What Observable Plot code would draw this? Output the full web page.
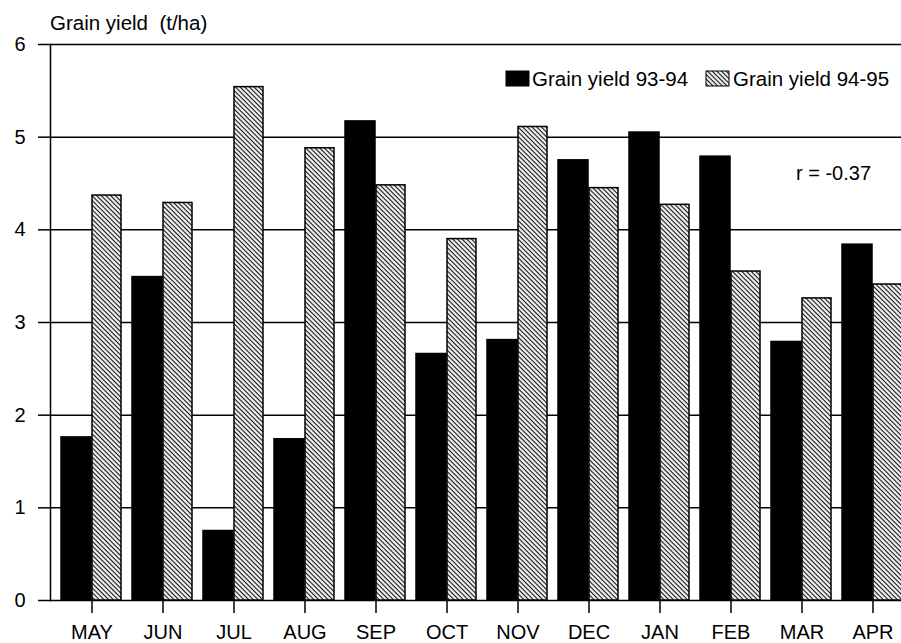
<!DOCTYPE html>
<html>
<head>
<meta charset="utf-8">
<script src="https://cdn.jsdelivr.net/npm/d3@7"></script>
<script src="https://cdn.jsdelivr.net/npm/@observablehq/plot@0.6"></script>
<style>
  html, body { margin: 0; padding: 0; background: white; overflow: hidden; }
  #wrap { position: relative; width: 901px; height: 643px; overflow: hidden; font-family: "Liberation Sans", Arial, Helvetica, sans-serif; color: black; }
  #title { position: absolute; left: 50px; top: 2px; height: 24px; font-size: 20.5px; line-height: 20px; white-space: pre; padding-top: 11px; box-sizing: border-box; overflow: visible; }
  #chart { position: absolute; left: 0; top: 26px; }
  #overlay { position: absolute; left: 0; top: 0; pointer-events: none; }
</style>
</head>
<body>
<svg width="0" height="0" style="position:absolute">
  <defs>
    <pattern id="hatch" patternUnits="userSpaceOnUse" width="3.3" height="3.3" patternTransform="rotate(-45)">
      <rect width="3.3" height="3.3" fill="white"></rect>
      <line x1="1.2" y1="0" x2="1.2" y2="3.3" stroke="#111" stroke-width="1.2"></line>
    </pattern>
  </defs>
</svg>
<div id="wrap">
  <div id="title"></div>
  <div id="chart"></div>
  <svg id="overlay" width="901" height="643"></svg>
</div>
<script>
const titleText = "Grain yield  (t/ha)";
const months = ["MAY", "JUN", "JUL", "AUG", "SEP", "OCT", "NOV", "DEC", "JAN", "FEB", "MAR", "APR"];
const yield9394 = [1.76, 3.49, 0.75, 1.74, 5.17, 2.66, 2.81, 4.75, 5.05, 4.79, 2.79, 3.84];
const yield9495 = [4.37, 4.29, 5.54, 4.88, 4.48, 3.90, 5.11, 4.45, 4.27, 3.55, 3.26, 3.41];
const seriesNames = ["Grain yield 93-94", "Grain yield 94-95"];
const yTicks = [0, 1, 2, 3, 4, 5, 6];
const rLabel = "r = -0.37";

const data = months.map((m, i) => ({month: m, a: yield9394[i], b: yield9495[i]}));

document.getElementById("title").textContent = titleText;

const chart = Plot.plot({
  width: 901,
  height: 617,
  marginTop: 18,
  marginBottom: 43,
  marginLeft: 50,
  marginRight: 0,
  x: {domain: months, range: [51, 913], padding: 0, label: null},
  y: {domain: [0, 6], label: null},
  style: {fontFamily: "'Liberation Sans', Arial, Helvetica, sans-serif", fontSize: "20px", color: "black", background: "transparent", overflow: "hidden"},
  marks: [
    Plot.gridY(yTicks, {stroke: "black", strokeOpacity: 1, strokeWidth: 1.5}),
    Plot.barY(data, {x: "month", y: "a", fill: "black", stroke: "black", strokeWidth: 1.5, insetLeft: 5, insetRight: 36}),
    Plot.barY(data, {x: "month", y: "b", fill: "url(#hatch)", stroke: "black", strokeWidth: 1.5, insetLeft: 36, insetRight: 6}),
    Plot.frame({anchor: "left", stroke: "black", strokeWidth: 1.5}),
    Plot.axisY(yTicks, {tickSize: 12, tickPadding: 13, strokeWidth: 1.5, tickFormat: d3.format("d"), label: null}),
    Plot.axisX({tickSize: 13, tickPadding: 11, strokeWidth: 1.5, fontSize: 20, label: null})
  ]
});
document.getElementById("chart").appendChild(chart);

// Legend and annotation overlay
const ov = d3.select("#overlay");
const legendItems = [
  {name: seriesNames[0], fill: "black", rx: 506, tx: 532},
  {name: seriesNames[1], fill: "url(#hatch)", rx: 706, tx: 733}
];
legendItems.forEach(d => {
  ov.append("rect").attr("x", d.rx).attr("y", 71).attr("width", 23).attr("height", 15)
    .attr("fill", d.fill).attr("stroke", "black").attr("stroke-width", 1);
  ov.append("text").attr("x", d.tx).attr("y", 86)
    .attr("font-family", "'Liberation Sans', Arial, sans-serif").attr("font-size", 20.5)
    .attr("fill", "black").text(d.name);
});
ov.append("text").attr("x", 796).attr("y", 180)
  .attr("font-family", "'Liberation Sans', Arial, sans-serif").attr("font-size", 20)
  .attr("fill", "black").text(rLabel);
</script>
</body>
</html>
